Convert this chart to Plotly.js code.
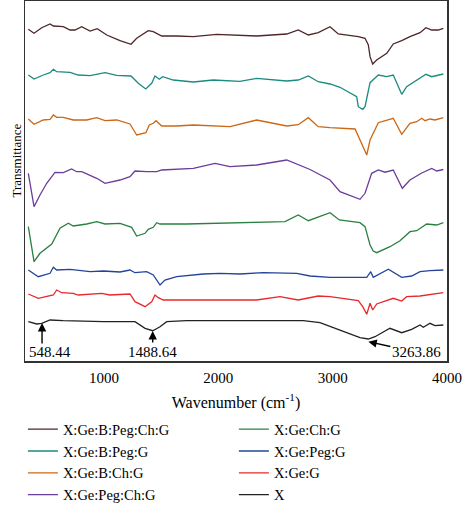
<!DOCTYPE html>
<html>
<head>
<meta charset="utf-8">
<script src="https://cdn.plot.ly/plotly-3.0.1.min.js"></script>
<style>html,body{margin:0;padding:0;background:#fff;}#chart{width:464px;height:505px;}</style>
</head>
<body>
<div id="chart"></div>
<script>
// Series names (legend labels)
const seriesNames = ["X:Ge:B:Peg:Ch:G","X:Ge:B:Peg:G","X:Ge:B:Ch:G","X:Ge:Peg:Ch:G","X:Ge:Ch:G","X:Ge:Peg:G","X:Ge:G","X"];

// Wavenumbers (cm^-1) and offset transmittance (arbitrary units) per series
const wn1 = [338,388,455,528,557,644,703,746,805,878,941,1024,1140,1236,1286,1387,1431,1505,1636,1781,1986,2189,2335,2598,2699,2787,2874,2977,3049,3224,3283,3312,3327,3350,3385,3473,3530,3604,3676,3764,3816,3866,3924,3968];
const t1  = [331.7,327.7,333.3,337,335,334.3,331,331,334.3,330,332.3,326,320.3,316.7,322.7,330.3,329.3,325,325,324.3,326.7,326,325,327,331,326,328.3,334.3,327,324.3,322.7,316,304.3,297,301,307.7,317,320.3,324.3,328.3,333.3,331,331,332.7];

const wn2 = [338,388,469,528,557,586,703,775,878,1009,1111,1236,1300,1365,1417,1446,1484,1513,1606,1781,1956,2189,2335,2598,2699,2787,2874,2977,3064,3210,3224,3263,3283,3327,3399,3473,3530,3604,3647,3735,3816,3866,3968];
const t2  = [286,282,286,288.3,291.7,289.3,288.7,286,285.3,288.3,285.7,285,277.7,272,277.7,285,281.7,284.3,281,279,281,279.7,282.7,280,281,285,279.3,277,273.7,264.3,254.3,251.7,254.3,278.3,286,284.3,286,266.7,274.3,281,286.7,284.3,287];

const wn3 = [338,388,469,528,557,586,644,731,849,936,1009,1111,1227,1286,1367,1396,1431,1455,1505,1636,1781,1986,2102,2335,2598,2699,2787,2874,2977,3196,3254,3298,3327,3399,3530,3604,3676,3735,3779,3808,3851,3895,3968];
const t3  = [242,236.7,241,241.7,246,243.7,243.7,241,241,243.3,240.3,241,237,226,228.3,236,237.7,240.3,235,235,236,235,234.3,241,235,236.3,243.3,234.3,233.3,232,217.7,206,221,238.3,242.7,226.7,237.7,239.3,242.7,240.3,242,241,243.3];

const wn4 = [338,388,440,499,571,644,717,761,805,936,1009,1140,1227,1271,1373,1461,1505,1606,1781,1971,2102,2335,2598,2802,2977,3064,3239,3283,3341,3399,3458,3530,3609,3676,3779,3866,3910,3968];
const t4  = [187.7,154.3,166,177.7,188.7,188.3,192,189.3,189.3,182.7,177.7,181,184.3,190,189.3,189.3,191,191.7,192.7,197.7,194.3,196,201,191.5,181,169.3,161.7,167.7,187.7,191,188.8,191,172.7,181,188,192.5,190,191.5];

const wn5 = [338,388,440,543,615,688,731,849,936,1009,1140,1242,1286,1359,1387,1431,1461,1490,1723,2015,2189,2583,2699,2787,2977,3058,3239,3283,3327,3355,3385,3501,3589,3676,3735,3822,3910,3968];
const t5  = [134.3,99.3,107.7,117,132.7,137.7,135,137,139.3,137,137.7,133.7,125,127.7,131.7,133.7,138.3,137,137,137.7,138.3,139.3,146,140.3,148.3,141,138.3,134.3,116,110,108.3,114.3,120.3,129.3,130.3,137,136,138.3];

const wn6 = [338,425,528,557,586,703,878,994,1140,1227,1271,1373,1431,1490,1533,1636,1868,2015,2189,2393,2685,2802,2977,3152,3298,3333,3355,3487,3604,3691,3764,3851,3968];
const t6  = [91,84.3,87.7,93.7,91,91.7,89.3,90,89,91,88.3,89.3,86,76,81,84.3,87,87.7,87,88.3,87.7,85,83.7,83.7,83.7,89.3,83.7,91.7,83.7,85,89.3,90.3,91];

const wn7 = [338,425,557,586,630,731,775,878,980,1052,1227,1271,1359,1417,1446,1475,1519,1723,2015,2335,2539,2699,2874,2977,3224,3263,3298,3327,3350,3385,3530,3604,3647,3764,3968];
const t7  = [67,62.7,66,71,68.3,67.7,66,67,67.7,66,67,59.3,54.3,59.3,66,63.3,61,61,61,61,64.3,61,65,64.3,60.3,54.3,46.7,57.7,51,57,62.7,60,64.3,65,68.3];

const wn8 = [338,411,455,528,644,994,1271,1359,1426,1490,1548,1723,2189,2743,2889,3064,3239,3312,3370,3501,3604,3691,3764,3793,3851,3895,3968];
const t8  = [39.3,37,37.7,41,40.3,39.3,39.3,32.7,30.3,34.3,39.3,40.3,40.3,40.3,38.3,31,23.3,22,24.3,32.7,28.3,31.7,36,33.7,37.7,35.3,36];

// Peak labels (text) and the points their arrows mark
const peakLabels = ["548.44","1488.64","3263.86"];
const peakWn = [458,1426,3312];
const peakT = [38,30,19.3];

const colors = ["#4f2629","#1b8a7f","#cc6714","#6a3d9a","#2a8040","#23449a","#e8282c","#222222"];
const xs = [wn1,wn2,wn3,wn4,wn5,wn6,wn7,wn8];
const ys = [t1,t2,t3,t4,t5,t6,t7,t8];

const traces = xs.map((x,i)=>({
  type:"scatter", mode:"lines", x:x, y:ys[i], name:seriesNames[i],
  line:{color:colors[i], width:1.3},
  legend: i<4 ? "legend" : "legend2"
}));

const FONT = "Liberation Serif, Times New Roman, serif";
const annFont = {family:FONT, size:15, color:"#000"};
const arrowStyle = {arrowhead:2, arrowsize:1.2, arrowwidth:1.4, arrowcolor:"#000"};
const annotations = [
  // 548.44: vertical arrow + label offset to the right of it
  Object.assign({x:peakWn[0], y:peakT[0], xref:"x", yref:"y", text:"", showarrow:true, ax:0, ay:22}, arrowStyle),
  {x:531, y:9, xref:"x", yref:"y", text:peakLabels[0], showarrow:false, font:annFont},
  // 1488.64
  Object.assign({x:peakWn[1], y:peakT[1], xref:"x", yref:"y", text:peakLabels[1], showarrow:true, ax:0, ay:21, font:annFont}, arrowStyle),
  // 3263.86
  Object.assign({x:peakWn[2], y:peakT[2], xref:"x", yref:"y", text:peakLabels[2], showarrow:true, ax:48, ay:10.5, font:annFont}, arrowStyle),
  // y-axis title
  {xref:"paper", yref:"paper", x:-0.0427, y:0.558, text:"Transmittance", textangle:-90, showarrow:false,
   font:{family:FONT, size:13, color:"#000"}}
];

const legendCommon = {font:{family:FONT, size:14.5, color:"#000"}, bgcolor:"rgba(0,0,0,0)", borderwidth:0, yanchor:"top", xanchor:"left", orientation:"v"};

const layout = {
  width:464, height:505,
  margin:{l:25, r:17, t:1, b:144, autoexpand:false},
  paper_bgcolor:"#fff", plot_bgcolor:"#fff",
  font:{family:FONT, size:15, color:"#000"},
  xaxis:{range:[309,4000], tickvals:[1000,2000,3000,4000], ticks:"", showgrid:false, zeroline:false,
    showline:true, mirror:true, linecolor:"#333", linewidth:1.5, ticklabelstandoff:2,
    tickfont:{family:FONT, size:15, color:"#000"},
    title:{text:"Wavenumber (cm<sup>-1</sup>)", font:{family:FONT, size:16, color:"#000"}, standoff:12}},
  yaxis:{range:[0,360], showticklabels:false, ticks:"", showgrid:false, zeroline:false,
    showline:true, mirror:true, linecolor:"#333", linewidth:1.5},
  showlegend:true,
  legend: Object.assign({x:-0.005, y:-0.145}, legendCommon),
  legend2: Object.assign({x:0.495, y:-0.145}, legendCommon),
  annotations: annotations
};

Plotly.newPlot("chart", traces, layout, {displayModeBar:false, staticPlot:true});
</script>
</body>
</html>
